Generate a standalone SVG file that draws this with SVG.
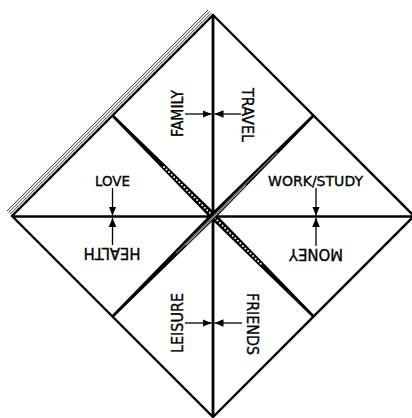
<svg xmlns="http://www.w3.org/2000/svg" width="412" height="418" viewBox="0 0 412 418">
  <style>
    .edge { stroke: #000; stroke-width: 2.4; fill: none; stroke-linecap: round; stroke-linejoin: miter; }
    .thin { stroke: #000; stroke-width: 0.8; fill: none; }
    .axis { stroke: #000; fill: none; }
    .arrow { stroke: #000; stroke-width: 1.3; fill: none; marker-end: url(#head); }
    .lbl { font-family: "DejaVu Sans", "Liberation Sans", sans-serif; fill: #000; stroke: #000; stroke-width: 0.35; text-anchor: middle; }
    .up { font-size: 13.5px; }
    .rot { font-size: 15px; }
  </style>
  <defs>
    <marker id="head" markerUnits="userSpaceOnUse" markerWidth="10" markerHeight="10" viewBox="0 0 10 10" refX="9" refY="5" orient="auto">
      <path d="M0,1.2 L9,5 L0,8.8 Z" fill="#000"/>
    </marker>
  </defs>
  <rect width="412" height="418" fill="#fff"/>

  <g id="paper">
    <!-- layered edge lines along top-left -->
    <line class="thin" x1="10.2" y1="214.2" x2="211.2" y2="13.2"/>
    <line class="thin" x1="8.6" y1="212.6" x2="209.6" y2="11.6"/>
    <line class="thin" x1="7.0" y1="211.0" x2="208.0" y2="10.0"/>
    <!-- outer square -->
    <path class="edge" d="M12,216 L213,15" stroke-width="2.8"/>
    <path class="edge" d="M213,15 L414,216 L213,417 L12,216"/>
    <!-- centre folds -->
    <line class="axis" x1="213" y1="15" x2="213" y2="417" stroke-width="2.8"/>
    <line class="axis" x1="12" y1="216.5" x2="414" y2="216.5" stroke-width="2.4"/>
    <!-- diagonal fold \ with dotted strip -->
    <polygon fill="#000" points="113.42,114.58 215.47,213.53 314.42,315.58 312.58,317.42 210.53,218.47 111.58,116.42"/>
    <line x1="164" y1="167" x2="263" y2="266" stroke="#fff" stroke-width="2" stroke-linecap="round" stroke-dasharray="0 3.6"/>
    <!-- diagonal fold / with white stripes -->
    <polygon fill="#000" points="312.58,114.58 314.42,116.42 215.26,218.26 113.42,317.42 111.58,315.58 210.74,213.74"/>
    <line x1="277" y1="152.5" x2="176" y2="253.5" stroke="#fff" stroke-width="0.8"/>
    <line x1="246" y1="185.2" x2="186" y2="245.2" stroke="#fff" stroke-width="0.8"/>
  </g>

  <g id="connectors">
    <line class="arrow" x1="112.5" y1="188" x2="112.5" y2="215.5"/>
    <line class="arrow" x1="112.5" y1="245" x2="112.5" y2="218"/>
    <line class="arrow" x1="316" y1="188" x2="316" y2="215.5"/>
    <line class="arrow" x1="316" y1="246" x2="316" y2="218"/>
    <line class="arrow" x1="185" y1="114" x2="211.5" y2="114"/>
    <line class="arrow" x1="241" y1="114" x2="214.5" y2="114"/>
    <line class="arrow" x1="185" y1="323" x2="211.5" y2="323"/>
    <line class="arrow" x1="242" y1="323" x2="214.5" y2="323"/>
  </g>

  <g id="love"><text class="lbl up" x="112.5" y="186" textLength="35" lengthAdjust="spacingAndGlyphs">LOVE</text></g>
  <g id="work-study"><text class="lbl up" x="315.5" y="186" textLength="95" lengthAdjust="spacingAndGlyphs">WORK/STUDY</text></g>
  <g id="health"><text class="lbl rot" transform="translate(112,248) rotate(180)" textLength="57" lengthAdjust="spacingAndGlyphs">HEALTH</text></g>
  <g id="money"><text class="lbl rot" transform="translate(316,249) rotate(180)" textLength="54" lengthAdjust="spacingAndGlyphs">MONEY</text></g>
  <g id="family"><text class="lbl rot" transform="translate(183,113.5) rotate(-90)" textLength="47" lengthAdjust="spacingAndGlyphs">FAMILY</text></g>
  <g id="travel"><text class="lbl rot" transform="translate(242,115) rotate(90)" textLength="54" lengthAdjust="spacingAndGlyphs">TRAVEL</text></g>
  <g id="leisure"><text class="lbl rot" transform="translate(183,323) rotate(-90)" textLength="60" lengthAdjust="spacingAndGlyphs">LEISURE</text></g>
  <g id="friends"><text class="lbl rot" transform="translate(246.5,324) rotate(90)" textLength="62" lengthAdjust="spacingAndGlyphs">FRIENDS</text></g>
</svg>
